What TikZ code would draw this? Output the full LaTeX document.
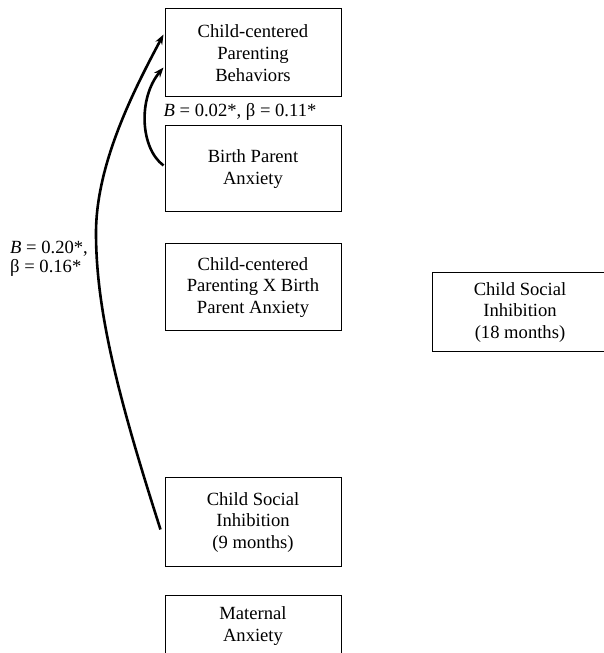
\documentclass[tikz,border=0pt]{standalone}
\usepackage{fontspec}
\setmainfont{Liberation Serif}
\usetikzlibrary{arrows.meta}
\begin{document}
\begin{tikzpicture}[x=1pt,y=1pt,
  varbox/.style={draw, line width=1pt, minimum width=176pt, minimum height=88pt,
    align=center, inner sep=2pt, font=\fontsize{18.6}{21.7}\selectfont},
  lbl/.style={inner sep=0pt, font=\fontsize{18.6}{16}\selectfont},
  path/.style={line width=2.6pt, -{Stealth[length=10pt,width=7.5pt]}}]
\useasboundingbox (0,0) rectangle (603,653);
\node[varbox] (ccp) at (253,600) {Child-centered\\Parenting\\Behaviors};
\node[varbox, minimum height=86pt] (bpa) at (253,484) {Birth Parent\\Anxiety};
\node[varbox, minimum height=87pt] (inter) at (253,365.5) {Child-centered\\Parenting X Birth\\Parent Anxiety};
\node[varbox, minimum height=89pt] (csi9) at (253,130.5) {Child Social\\Inhibition\\(9 months)};
\node[varbox, minimum height=60pt] (mat) at (253,27) {Maternal\\Anxiety};
\node[varbox, minimum height=79pt] (csi18) at (520,340.5) {Child Social\\Inhibition\\(18 months)};
\node[lbl, anchor=base] (lblB) at (240,536) {\textit{B} = 0.02*, β = 0.11*};
\node[lbl, anchor=base west] (lblA1) at (10,399) {\textit{B} = 0.20*,};
\node[lbl, anchor=base west] (lblA2) at (10,380) {β = 0.16*};
\draw[path] ([shift={(-4pt,-52pt)}]csi9.north west) .. controls (120,250) and (96,340) .. (96,420)
  .. controls (96,490) and (135,565) .. ([shift={(-1pt,-26pt)}]ccp.north west);
\draw[path] ([shift={(-1pt,-40pt)}]bpa.north west) .. controls (140,505) and (138,555) .. ([shift={(-1pt,-59pt)}]ccp.north west);
\end{tikzpicture}
\end{document}
